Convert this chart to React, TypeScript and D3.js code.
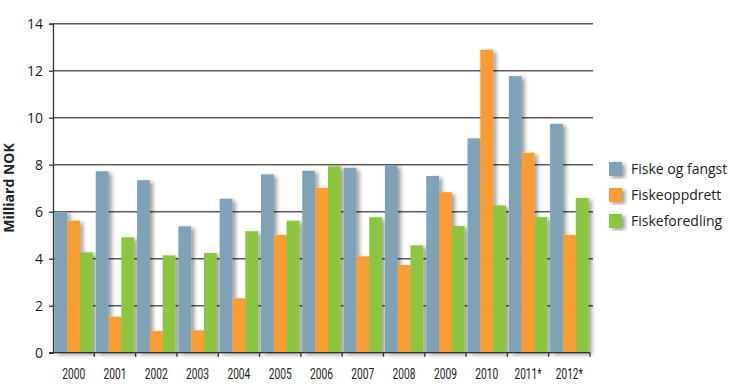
import React, { useEffect, useRef } from 'react';
import * as d3 from 'd3';

const years = ['2000', '2001', '2002', '2003', '2004', '2005', '2006', '2007', '2008', '2009', '2010', '2011*', '2012*'];
const fiskeOgFangst = [6.0, 7.72, 7.34, 5.38, 6.55, 7.59, 7.74, 7.87, 7.97, 7.52, 9.12, 11.77, 9.74];
const fiskeoppdrett = [5.62, 1.53, 0.92, 0.95, 2.31, 5.01, 7.01, 4.1, 3.73, 6.83, 12.89, 8.51, 5.01];
const fiskeforedling = [4.27, 4.91, 4.14, 4.24, 5.17, 5.62, 7.93, 5.76, 4.57, 5.39, 6.27, 5.77, 6.58];
const seriesNames = ['Fiske og fangst', 'Fiskeoppdrett', 'Fiskeforedling'];
const colors = ['#7fa2b7', '#f99d31', '#8cc63f'];
const yTicks = [0, 2, 4, 6, 8, 10, 12, 14];

const App: React.FC = () => {
    const ref = useRef<SVGSVGElement>(null);

    useEffect(() => {
        const svg = d3.select(ref.current);
        svg.selectAll('*').remove();

        const left = 53;
        const right = 590;
        const top = 23.7;
        const bottom = 352.7;
        const font = "'Myriad Pro', 'Open Sans', 'DejaVu Sans', sans-serif";
        const narrow = "'Liberation Sans Narrow', 'Roboto', sans-serif";

        // shadow under bars
        const defs = svg.append('defs');
        const f = defs.append('filter').attr('id', 'shadow')
            .attr('x', '-20%').attr('y', '-10%').attr('width', '160%').attr('height', '130%');
        f.append('feDropShadow')
            .attr('dx', 3).attr('dy', 2).attr('stdDeviation', 2)
            .attr('flood-color', '#000').attr('flood-opacity', 0.4);

        const x0 = d3.scaleBand().domain(years).range([left, right]).paddingInner(0.07).paddingOuter(0.035);
        const x1 = d3.scaleBand().domain(seriesNames).range([0, x0.bandwidth()]);
        const y = d3.scaleLinear().domain([0, 14]).range([bottom, top]);

        // grid
        svg.append('g').selectAll('line').data(yTicks.filter(t => t > 0)).enter()
            .append('line')
            .attr('x1', left).attr('x2', right + 3)
            .attr('y1', d => y(d)).attr('y2', d => y(d))
            .attr('stroke', '#5a5a5a').attr('stroke-width', 1.4);

        // bars
        const all = [fiskeOgFangst, fiskeoppdrett, fiskeforedling];
        const g = svg.append('g').attr('filter', 'url(#shadow)');
        years.forEach((yr, i) => {
            seriesNames.forEach((s, j) => {
                g.append('rect')
                    .attr('x', (x0(yr) as number) + (x1(s) as number))
                    .attr('y', y(all[j][i]))
                    .attr('width', x1.bandwidth())
                    .attr('height', bottom - y(all[j][i]))
                    .attr('fill', colors[j]);
            });
        });

        // y axis
        const yAxis = svg.append('g').attr('transform', `translate(${left},0)`)
            .call(d3.axisLeft(y).tickValues(yTicks).tickSize(4).tickPadding(6));
        yAxis.select('.domain').attr('stroke', '#333').attr('stroke-width', 1.3);
        yAxis.selectAll('.tick line').attr('stroke', '#333').attr('stroke-width', 1.3);
        yAxis.selectAll('text').attr('font-family', font).attr('font-size', 14).attr('fill', '#222');

        // x axis
        const xg = svg.append('g');
        xg.append('line').attr('x1', left - 4).attr('x2', right).attr('y1', bottom).attr('y2', bottom)
            .attr('stroke', '#333').attr('stroke-width', 1.3);
        const step = x0.step();
        const boundaries = years.map((yr) => (x0(yr) as number) + x0.bandwidth() + (step - x0.bandwidth()) / 2);
        xg.selectAll('line.tk').data(boundaries).enter().append('line')
            .attr('class', 'tk')
            .attr('x1', d => d).attr('x2', d => d).attr('y1', bottom).attr('y2', bottom + 4)
            .attr('stroke', '#333').attr('stroke-width', 1.3);
        xg.selectAll('text').data(years).enter().append('text')
            .attr('x', d => (x0(d) as number) + x0.bandwidth() / 2)
            .attr('y', 378.5)
            .attr('text-anchor', 'middle')
            .attr('font-family', narrow).attr('font-size', 15).attr('fill', '#222')
            .attr('textLength', d => (d.length > 4 ? 27 : 23))
            .attr('lengthAdjust', 'spacingAndGlyphs')
            .text(d => d);

        // y title
        svg.append('text')
            .attr('transform', 'translate(14,188) rotate(-90)')
            .attr('text-anchor', 'middle')
            .attr('font-family', font).attr('font-size', 14).attr('font-weight', 'bold').attr('fill', '#222')
            .text('Milliard NOK');

        // legend
        const lg = svg.append('g').attr('transform', 'translate(609,169)');
        seriesNames.forEach((s, j) => {
            lg.append('rect').attr('x', 0).attr('y', j * 26 - 7).attr('width', 13).attr('height', 14)
                .attr('fill', colors[j]).attr('filter', 'url(#shadow)');
            lg.append('text').attr('x', 22).attr('y', j * 26 + 5)
                .attr('font-family', font).attr('font-size', 14).attr('fill', '#222')
                .text(s);
        });
    }, []);

    return (
        <svg ref={ref} width={730} height={390}
            style={{ position: 'absolute', left: 0, top: 0, background: 'white' }}>
        </svg>
    );
};

export default App;
